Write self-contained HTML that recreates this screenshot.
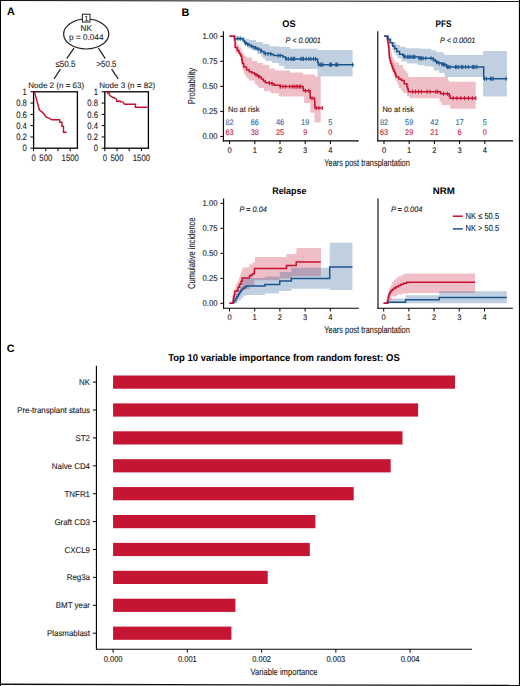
<!DOCTYPE html>
<html><head><meta charset="utf-8"><title>Figure</title>
<style>
html,body{margin:0;padding:0;background:#fff;}
body{width:520px;height:686px;overflow:hidden;}
svg{display:block;}
text{font-family:"Liberation Sans", sans-serif;text-rendering:geometricPrecision;}
</style></head>
<body>
<svg width="520" height="686" viewBox="0 0 520 686" font-family='"Liberation Sans", sans-serif'>
<rect x="0" y="0" width="520" height="686" fill="#fff"/>
<text x="7.0" y="14.7" font-size="10.8" font-weight="bold" fill="#000">A</text>
<text x="181.6" y="15.5" font-size="10.8" font-weight="bold" fill="#000">B</text>
<text x="6.8" y="352.2" font-size="10.8" font-weight="bold" fill="#000">C</text>
<ellipse cx="86.2" cy="34" rx="22.6" ry="15.0" fill="#fff" stroke="#1e1e1e" stroke-width="1.2"/>
<rect x="82.4" y="14.2" width="7.6" height="7.8" fill="#fff" stroke="#1e1e1e" stroke-width="1"/>
<text x="86.3" y="20.9" font-size="7.6" text-anchor="middle" fill="#1e1e1e" stroke="#1e1e1e" stroke-width="0.1">1</text>
<text x="86.3" y="30.8" font-size="8.2" text-anchor="middle" fill="#1e1e1e" stroke="#1e1e1e" stroke-width="0.1">NK</text>
<text x="86.3" y="40.2" font-size="8.4" text-anchor="middle" fill="#1e1e1e" stroke="#1e1e1e" stroke-width="0.1" textLength="34.4" lengthAdjust="spacingAndGlyphs">p = 0.044</text>
<line x1="74" y1="48.1" x2="66.7" y2="58.6" stroke="#1e1e1e" stroke-width="1.2"/>
<line x1="98.4" y1="48.1" x2="105.3" y2="58.6" stroke="#1e1e1e" stroke-width="1.2"/>
<text x="65.4" y="67.2" font-size="9.0" text-anchor="middle" fill="#1e1e1e" stroke="#1e1e1e" stroke-width="0.1" textLength="20.0" lengthAdjust="spacingAndGlyphs">≤50.5</text>
<text x="106.5" y="67.2" font-size="9.0" text-anchor="middle" fill="#1e1e1e" stroke="#1e1e1e" stroke-width="0.1" textLength="20.0" lengthAdjust="spacingAndGlyphs">&gt;50.5</text>
<line x1="60.4" y1="69.1" x2="54.1" y2="78.8" stroke="#1e1e1e" stroke-width="1.2"/>
<line x1="111.6" y1="69.1" x2="118.2" y2="78.8" stroke="#1e1e1e" stroke-width="1.2"/>
<text x="56.2" y="87.6" font-size="8.0" text-anchor="middle" fill="#1e1e1e" stroke="#1e1e1e" stroke-width="0.1" textLength="56.0" lengthAdjust="spacingAndGlyphs">Node 2 (n = 63)</text>
<text x="127.3" y="87.6" font-size="8.0" text-anchor="middle" fill="#1e1e1e" stroke="#1e1e1e" stroke-width="0.1" textLength="56.0" lengthAdjust="spacingAndGlyphs">Node 3 (n = 82)</text>
<rect x="33.6" y="91.8" width="43.800000000000004" height="56.39999999999999" fill="none" stroke="#000" stroke-width="1.3"/>
<line x1="30.400000000000002" y1="148.2" x2="33.6" y2="148.2" stroke="#000" stroke-width="1"/>
<text x="26.9" y="151.39999999999998" font-size="9.2" text-anchor="end" fill="#151515" stroke="#151515" stroke-width="0.1" textLength="4.3" lengthAdjust="spacingAndGlyphs">0</text>
<line x1="30.400000000000002" y1="136.92" x2="33.6" y2="136.92" stroke="#000" stroke-width="1"/>
<text x="26.9" y="140.11999999999998" font-size="9.2" text-anchor="end" fill="#151515" stroke="#151515" stroke-width="0.1" textLength="10.74" lengthAdjust="spacingAndGlyphs">0.2</text>
<line x1="30.400000000000002" y1="125.63999999999999" x2="33.6" y2="125.63999999999999" stroke="#000" stroke-width="1"/>
<text x="26.9" y="128.83999999999997" font-size="9.2" text-anchor="end" fill="#151515" stroke="#151515" stroke-width="0.1" textLength="10.74" lengthAdjust="spacingAndGlyphs">0.4</text>
<line x1="30.400000000000002" y1="114.35999999999999" x2="33.6" y2="114.35999999999999" stroke="#000" stroke-width="1"/>
<text x="26.9" y="117.55999999999999" font-size="9.2" text-anchor="end" fill="#151515" stroke="#151515" stroke-width="0.1" textLength="10.74" lengthAdjust="spacingAndGlyphs">0.6</text>
<line x1="30.400000000000002" y1="103.08" x2="33.6" y2="103.08" stroke="#000" stroke-width="1"/>
<text x="26.9" y="106.28" font-size="9.2" text-anchor="end" fill="#151515" stroke="#151515" stroke-width="0.1" textLength="10.74" lengthAdjust="spacingAndGlyphs">0.8</text>
<line x1="30.400000000000002" y1="91.8" x2="33.6" y2="91.8" stroke="#000" stroke-width="1"/>
<text x="26.9" y="95.0" font-size="9.2" text-anchor="end" fill="#151515" stroke="#151515" stroke-width="0.1" textLength="4.3" lengthAdjust="spacingAndGlyphs">1</text>
<line x1="33.6" y1="148.2" x2="33.6" y2="151.2" stroke="#000" stroke-width="1"/>
<line x1="45.8" y1="148.2" x2="45.8" y2="151.2" stroke="#000" stroke-width="1"/>
<line x1="58.0" y1="148.2" x2="58.0" y2="151.2" stroke="#000" stroke-width="1"/>
<line x1="70.19999999999999" y1="148.2" x2="70.19999999999999" y2="151.2" stroke="#000" stroke-width="1"/>
<text x="33.6" y="160.6" font-size="9.2" text-anchor="middle" fill="#151515" stroke="#151515" stroke-width="0.1" textLength="4.3" lengthAdjust="spacingAndGlyphs">0</text>
<text x="45.8" y="160.6" font-size="9.2" text-anchor="middle" fill="#151515" stroke="#151515" stroke-width="0.1" textLength="12.89" lengthAdjust="spacingAndGlyphs">500</text>
<text x="70.19999999999999" y="160.6" font-size="9.2" text-anchor="middle" fill="#151515" stroke="#151515" stroke-width="0.1" textLength="17.19" lengthAdjust="spacingAndGlyphs">1500</text>
<polyline points="34.4,91.6 39.4,110 41.9,111.9 43.75,113.75 46.25,117.25 48.75,118.1 51.9,119.75 59.75,119.75 59.75,122.25 61.9,122.25 61.9,126.25 63.5,126.25 63.5,132.25 66.5,132.25" fill="none" stroke="#c8102e" stroke-width="1.4" stroke-linejoin="miter"/>
<rect x="104.8" y="91.8" width="43.60000000000001" height="56.39999999999999" fill="none" stroke="#000" stroke-width="1.3"/>
<line x1="101.6" y1="148.2" x2="104.8" y2="148.2" stroke="#000" stroke-width="1"/>
<text x="98.1" y="151.39999999999998" font-size="9.2" text-anchor="end" fill="#151515" stroke="#151515" stroke-width="0.1" textLength="4.3" lengthAdjust="spacingAndGlyphs">0</text>
<line x1="101.6" y1="136.92" x2="104.8" y2="136.92" stroke="#000" stroke-width="1"/>
<text x="98.1" y="140.11999999999998" font-size="9.2" text-anchor="end" fill="#151515" stroke="#151515" stroke-width="0.1" textLength="10.74" lengthAdjust="spacingAndGlyphs">0.2</text>
<line x1="101.6" y1="125.63999999999999" x2="104.8" y2="125.63999999999999" stroke="#000" stroke-width="1"/>
<text x="98.1" y="128.83999999999997" font-size="9.2" text-anchor="end" fill="#151515" stroke="#151515" stroke-width="0.1" textLength="10.74" lengthAdjust="spacingAndGlyphs">0.4</text>
<line x1="101.6" y1="114.35999999999999" x2="104.8" y2="114.35999999999999" stroke="#000" stroke-width="1"/>
<text x="98.1" y="117.55999999999999" font-size="9.2" text-anchor="end" fill="#151515" stroke="#151515" stroke-width="0.1" textLength="10.74" lengthAdjust="spacingAndGlyphs">0.6</text>
<line x1="101.6" y1="103.08" x2="104.8" y2="103.08" stroke="#000" stroke-width="1"/>
<text x="98.1" y="106.28" font-size="9.2" text-anchor="end" fill="#151515" stroke="#151515" stroke-width="0.1" textLength="10.74" lengthAdjust="spacingAndGlyphs">0.8</text>
<line x1="101.6" y1="91.8" x2="104.8" y2="91.8" stroke="#000" stroke-width="1"/>
<text x="98.1" y="95.0" font-size="9.2" text-anchor="end" fill="#151515" stroke="#151515" stroke-width="0.1" textLength="4.3" lengthAdjust="spacingAndGlyphs">1</text>
<line x1="104.8" y1="148.2" x2="104.8" y2="151.2" stroke="#000" stroke-width="1"/>
<line x1="117.0" y1="148.2" x2="117.0" y2="151.2" stroke="#000" stroke-width="1"/>
<line x1="129.2" y1="148.2" x2="129.2" y2="151.2" stroke="#000" stroke-width="1"/>
<line x1="141.39999999999998" y1="148.2" x2="141.39999999999998" y2="151.2" stroke="#000" stroke-width="1"/>
<text x="104.8" y="160.6" font-size="9.2" text-anchor="middle" fill="#151515" stroke="#151515" stroke-width="0.1" textLength="4.3" lengthAdjust="spacingAndGlyphs">0</text>
<text x="117.0" y="160.6" font-size="9.2" text-anchor="middle" fill="#151515" stroke="#151515" stroke-width="0.1" textLength="12.89" lengthAdjust="spacingAndGlyphs">500</text>
<text x="141.39999999999998" y="160.6" font-size="9.2" text-anchor="middle" fill="#151515" stroke="#151515" stroke-width="0.1" textLength="17.19" lengthAdjust="spacingAndGlyphs">1500</text>
<polyline points="105.4,91.6 107.7,91.6 107.7,93 109.2,93 109.2,94.7 110.8,96.2 113.1,97.5 115.4,98.4 116.6,99.3 116.6,101.2 120.3,101.2 120.3,101.9 122.8,101.9 124.6,104.2 135.4,104.2 135.4,107.3 147.7,107.3" fill="none" stroke="#c8102e" stroke-width="1.4" stroke-linejoin="miter"/>
<line x1="223.4" y1="31.3" x2="223.4" y2="141.4" stroke="#000" stroke-width="1.1"/>
<line x1="222.9" y1="140.9" x2="358.8" y2="140.9" stroke="#000" stroke-width="1.1"/>
<line x1="229.6" y1="140.9" x2="229.6" y2="144.1" stroke="#000" stroke-width="1"/>
<text x="229.6" y="152.5" font-size="8.2" text-anchor="middle" fill="#151515" stroke="#151515" stroke-width="0.1" textLength="4.2" lengthAdjust="spacingAndGlyphs">0</text>
<line x1="254.79999999999998" y1="140.9" x2="254.79999999999998" y2="144.1" stroke="#000" stroke-width="1"/>
<text x="254.79999999999998" y="152.5" font-size="8.2" text-anchor="middle" fill="#151515" stroke="#151515" stroke-width="0.1" textLength="4.2" lengthAdjust="spacingAndGlyphs">1</text>
<line x1="280.0" y1="140.9" x2="280.0" y2="144.1" stroke="#000" stroke-width="1"/>
<text x="280.0" y="152.5" font-size="8.2" text-anchor="middle" fill="#151515" stroke="#151515" stroke-width="0.1" textLength="4.2" lengthAdjust="spacingAndGlyphs">2</text>
<line x1="305.2" y1="140.9" x2="305.2" y2="144.1" stroke="#000" stroke-width="1"/>
<text x="305.2" y="152.5" font-size="8.2" text-anchor="middle" fill="#151515" stroke="#151515" stroke-width="0.1" textLength="4.2" lengthAdjust="spacingAndGlyphs">3</text>
<line x1="330.4" y1="140.9" x2="330.4" y2="144.1" stroke="#000" stroke-width="1"/>
<text x="330.4" y="152.5" font-size="8.2" text-anchor="middle" fill="#151515" stroke="#151515" stroke-width="0.1" textLength="4.2" lengthAdjust="spacingAndGlyphs">4</text>
<line x1="220.20000000000002" y1="136.4" x2="223.4" y2="136.4" stroke="#000" stroke-width="1"/>
<text x="217.5" y="139.4" font-size="8.4" text-anchor="end" fill="#151515" stroke="#151515" stroke-width="0.1" textLength="15.04" lengthAdjust="spacingAndGlyphs">0.00</text>
<line x1="220.20000000000002" y1="111.375" x2="223.4" y2="111.375" stroke="#000" stroke-width="1"/>
<text x="217.5" y="114.375" font-size="8.4" text-anchor="end" fill="#151515" stroke="#151515" stroke-width="0.1" textLength="15.04" lengthAdjust="spacingAndGlyphs">0.25</text>
<line x1="220.20000000000002" y1="86.35" x2="223.4" y2="86.35" stroke="#000" stroke-width="1"/>
<text x="217.5" y="89.35" font-size="8.4" text-anchor="end" fill="#151515" stroke="#151515" stroke-width="0.1" textLength="15.04" lengthAdjust="spacingAndGlyphs">0.50</text>
<line x1="220.20000000000002" y1="61.325" x2="223.4" y2="61.325" stroke="#000" stroke-width="1"/>
<text x="217.5" y="64.325" font-size="8.4" text-anchor="end" fill="#151515" stroke="#151515" stroke-width="0.1" textLength="15.04" lengthAdjust="spacingAndGlyphs">0.75</text>
<line x1="220.20000000000002" y1="36.3" x2="223.4" y2="36.3" stroke="#000" stroke-width="1"/>
<text x="217.5" y="39.3" font-size="8.4" text-anchor="end" fill="#151515" stroke="#151515" stroke-width="0.1" textLength="15.04" lengthAdjust="spacingAndGlyphs">1.00</text>
<polygon points="234.4,36.3 234.7,36.3 234.7,38.85 235.0,38.85 235.0,41.4 237.1,41.4 237.1,44.8 239.0,44.8 239.0,47.0 241.2,47.0 241.2,50.2 242.5,50.2 242.5,52.9 243.8,52.9 243.8,55.6 246.5,55.6 246.5,57.6 251.9,57.6 251.9,61.0 257.3,61.0 257.3,63.0 262.7,63.0 262.7,65.0 269.4,65.0 269.4,68.4 274.8,68.4 274.8,70.4 290.0,70.4 290.0,72.6 302.8,72.6 302.8,74.6 314.9,74.6 314.9,76.6 320.7,76.6 320.7,122.5 314.5,122.5 314.5,112.8 310.2,112.8 310.2,103 304.1,103 304.1,96.4 280,96.4 280.0,95.9 278.8,95.9 278.8,93.3 270.8,93.3 270.8,91.2 264.0,91.2 264.0,87.9 258.6,87.9 258.6,85.85 256.6,85.85 256.6,83.8 254.6,83.8 254.6,80.5 249.2,80.5 249.2,78.45 247.2,78.45 247.2,76.4 245.2,76.4 245.2,73.4 243.85,73.4 243.85,70.4 242.5,70.4 242.5,67.03 241.82,67.03 241.82,63.65 241.15,63.65 241.15,60.27 240.48,60.27 240.48,56.9 239.8,56.9 239.8,52.9 235.8,52.9 235.8,48.93 235.33,48.93 235.33,44.97 234.87,44.97 234.87,41.0 234.4,41.0" fill="#c8102e" fill-opacity="0.27" stroke="none"/>
<polygon points="234.6,36.3 242.5,36.3 242.5,36.8 245.2,36.8 245.2,38.7 249.2,38.7 249.2,40.1 256.0,40.1 256.0,42.1 262.7,42.1 262.7,44.1 269.4,44.1 269.4,46.2 278.8,46.2 278.8,46.8 290.0,46.8 290.0,48.8 317.6,48.8 317.6,49.9 352.6,49.9 352.6,76.4 317.6,76.4 317.6,68.6 317.6,69.0 284.2,69.0 284.2,65.7 278.8,65.7 278.8,63.0 272.1,63.0 272.1,61.0 265.4,61.0 265.4,58.95 263.35,58.95 263.35,56.9 261.3,56.9 261.3,54.2 257.3,54.2 257.3,50.2 251.9,50.2 251.9,48.2 247.9,48.2 247.9,44.8 243.8,44.8 243.8,42.1 242.5,42.1 242.5,40.1 235.8,40.1 235.8,38.7 234.6,38.7" fill="#1b538f" fill-opacity="0.27" stroke="none"/>
<polyline points="229.6,36.3 234.6,36.3 234.6,38.7 242.5,38.7 243.2,38.7 243.2,40.8 244.5,40.8 244.5,42.8 246.5,42.8 246.5,44.1 249.2,44.1 249.2,45.5 251.9,45.5 251.9,46.8 255.3,46.8 255.3,48.2 258.6,48.2 258.6,49.5 261.3,49.5 261.3,51.5 264.0,51.5 264.0,53.6 270.8,53.6 270.8,54.2 273.5,54.2 273.5,55.6 280.2,55.6 282.9,55.6 282.9,56.9 285.6,56.9 285.6,58.9 316.2,58.9 317.6,58.9 317.6,62.3 318.3,62.3 318.3,64.7 353.9,64.7" fill="none" stroke="#1b538f" stroke-width="1.5" stroke-linejoin="miter"/>
<line x1="237.9" y1="36.6" x2="237.9" y2="40.8" stroke="#1b538f" stroke-width="1.0"/>
<line x1="240.3" y1="36.6" x2="240.3" y2="40.8" stroke="#1b538f" stroke-width="1.0"/>
<line x1="245.5" y1="41.35" x2="245.5" y2="45.55" stroke="#1b538f" stroke-width="1.0"/>
<line x1="247.6" y1="42.57" x2="247.6" y2="46.77" stroke="#1b538f" stroke-width="1.0"/>
<line x1="251.2" y1="44.36" x2="251.2" y2="48.56" stroke="#1b538f" stroke-width="1.0"/>
<line x1="253.9" y1="45.52" x2="253.9" y2="49.72" stroke="#1b538f" stroke-width="1.0"/>
<line x1="256" y1="46.38" x2="256" y2="50.58" stroke="#1b538f" stroke-width="1.0"/>
<line x1="258" y1="47.16" x2="258" y2="51.36" stroke="#1b538f" stroke-width="1.0"/>
<line x1="260.7" y1="48.96" x2="260.7" y2="53.16" stroke="#1b538f" stroke-width="1.0"/>
<line x1="265.4" y1="51.62" x2="265.4" y2="55.82" stroke="#1b538f" stroke-width="1.0"/>
<line x1="268.1" y1="51.86" x2="268.1" y2="56.06" stroke="#1b538f" stroke-width="1.0"/>
<line x1="270.8" y1="52.1" x2="270.8" y2="56.3" stroke="#1b538f" stroke-width="1.0"/>
<line x1="278.2" y1="53.5" x2="278.2" y2="57.7" stroke="#1b538f" stroke-width="1.0"/>
<line x1="280.2" y1="53.5" x2="280.2" y2="57.7" stroke="#1b538f" stroke-width="1.0"/>
<line x1="286.2" y1="56.8" x2="286.2" y2="61.0" stroke="#1b538f" stroke-width="1.0"/>
<line x1="288.3" y1="56.8" x2="288.3" y2="61.0" stroke="#1b538f" stroke-width="1.0"/>
<line x1="290.9" y1="56.8" x2="290.9" y2="61.0" stroke="#1b538f" stroke-width="1.0"/>
<line x1="292" y1="56.8" x2="292" y2="61.0" stroke="#1b538f" stroke-width="1.0"/>
<line x1="293.4" y1="56.8" x2="293.4" y2="61.0" stroke="#1b538f" stroke-width="1.0"/>
<line x1="294.7" y1="56.8" x2="294.7" y2="61.0" stroke="#1b538f" stroke-width="1.0"/>
<line x1="300.8" y1="56.8" x2="300.8" y2="61.0" stroke="#1b538f" stroke-width="1.0"/>
<line x1="302.1" y1="56.8" x2="302.1" y2="61.0" stroke="#1b538f" stroke-width="1.0"/>
<line x1="303.5" y1="56.8" x2="303.5" y2="61.0" stroke="#1b538f" stroke-width="1.0"/>
<line x1="306.2" y1="56.8" x2="306.2" y2="61.0" stroke="#1b538f" stroke-width="1.0"/>
<line x1="308.8" y1="56.8" x2="308.8" y2="61.0" stroke="#1b538f" stroke-width="1.0"/>
<line x1="310.9" y1="56.8" x2="310.9" y2="61.0" stroke="#1b538f" stroke-width="1.0"/>
<line x1="313.6" y1="56.8" x2="313.6" y2="61.0" stroke="#1b538f" stroke-width="1.0"/>
<line x1="315.6" y1="56.8" x2="315.6" y2="61.0" stroke="#1b538f" stroke-width="1.0"/>
<line x1="318.9" y1="62.6" x2="318.9" y2="66.8" stroke="#1b538f" stroke-width="1.0"/>
<line x1="320.3" y1="62.6" x2="320.3" y2="66.8" stroke="#1b538f" stroke-width="1.0"/>
<line x1="321.6" y1="62.6" x2="321.6" y2="66.8" stroke="#1b538f" stroke-width="1.0"/>
<line x1="323" y1="62.6" x2="323" y2="66.8" stroke="#1b538f" stroke-width="1.0"/>
<line x1="329.7" y1="62.6" x2="329.7" y2="66.8" stroke="#1b538f" stroke-width="1.0"/>
<line x1="330.4" y1="62.6" x2="330.4" y2="66.8" stroke="#1b538f" stroke-width="1.0"/>
<line x1="331.7" y1="62.6" x2="331.7" y2="66.8" stroke="#1b538f" stroke-width="1.0"/>
<line x1="335.8" y1="62.6" x2="335.8" y2="66.8" stroke="#1b538f" stroke-width="1.0"/>
<line x1="336.4" y1="62.6" x2="336.4" y2="66.8" stroke="#1b538f" stroke-width="1.0"/>
<line x1="337.8" y1="62.6" x2="337.8" y2="66.8" stroke="#1b538f" stroke-width="1.0"/>
<line x1="352.6" y1="62.6" x2="352.6" y2="66.8" stroke="#1b538f" stroke-width="1.0"/>
<polyline points="229.6,36.3 234.4,36.3 234.4,40.1 235.1,40.1 235.1,42.0 235.1,47.5 236.4,47.5 237.1,47.5 237.1,50.2 238.4,50.2 238.4,50.9 239.1,50.9 239.1,53.6 240.4,53.6 240.4,55.0 241.1,55.0 241.1,56.2 241.8,56.2 241.8,59.6 242.15,59.6 242.15,61.6 242.5,61.6 242.5,63.6 243.8,63.6 243.8,67.0 246.5,67.0 246.5,69.7 249.2,69.7 249.2,71.7 251.9,71.7 251.9,73.1 254.6,73.1 254.6,74.4 257.3,74.4 257.3,75.8 259.3,75.8 259.3,77.1 261.3,77.1 261.3,79.1 263.4,79.1 263.4,81.1 265.4,81.1 265.4,82.8 269.4,82.8 269.4,83.2 272.1,83.2 272.1,83.8 274.1,83.8 274.1,85.2 278.8,85.2 280.2,85.2 280.2,86.6 302.8,86.6 303.15,86.6 303.15,88.7 303.5,88.7 303.5,90.8 309.9,90.8 310.0,90.8 310.0,93.3 310.1,93.3 310.1,95.8 310.2,95.8 310.2,98.3 314.5,98.3 314.63,98.3 314.63,101.53 314.77,101.53 314.77,104.77 314.9,104.77 314.9,108.0 322.3,108" fill="none" stroke="#c8102e" stroke-width="1.5" stroke-linejoin="miter"/>
<line x1="256" y1="73.03" x2="256" y2="77.23" stroke="#c8102e" stroke-width="1.0"/>
<line x1="258.6" y1="74.55" x2="258.6" y2="78.74" stroke="#c8102e" stroke-width="1.0"/>
<line x1="269.4" y1="81.1" x2="269.4" y2="85.3" stroke="#c8102e" stroke-width="1.0"/>
<line x1="272.1" y1="81.7" x2="272.1" y2="85.9" stroke="#c8102e" stroke-width="1.0"/>
<line x1="280.2" y1="84.5" x2="280.2" y2="88.7" stroke="#c8102e" stroke-width="1.0"/>
<line x1="282.9" y1="84.5" x2="282.9" y2="88.7" stroke="#c8102e" stroke-width="1.0"/>
<line x1="285.6" y1="84.5" x2="285.6" y2="88.7" stroke="#c8102e" stroke-width="1.0"/>
<line x1="289.6" y1="84.5" x2="289.6" y2="88.7" stroke="#c8102e" stroke-width="1.0"/>
<line x1="292.3" y1="84.5" x2="292.3" y2="88.7" stroke="#c8102e" stroke-width="1.0"/>
<line x1="294" y1="84.5" x2="294" y2="88.7" stroke="#c8102e" stroke-width="1.0"/>
<line x1="296" y1="84.5" x2="296" y2="88.7" stroke="#c8102e" stroke-width="1.0"/>
<line x1="297.4" y1="84.5" x2="297.4" y2="88.7" stroke="#c8102e" stroke-width="1.0"/>
<line x1="299.4" y1="84.5" x2="299.4" y2="88.7" stroke="#c8102e" stroke-width="1.0"/>
<line x1="300.8" y1="84.5" x2="300.8" y2="88.7" stroke="#c8102e" stroke-width="1.0"/>
<line x1="305.5" y1="88.7" x2="305.5" y2="92.9" stroke="#c8102e" stroke-width="1.0"/>
<line x1="308.8" y1="88.7" x2="308.8" y2="92.9" stroke="#c8102e" stroke-width="1.0"/>
<line x1="312" y1="96.2" x2="312" y2="100.4" stroke="#c8102e" stroke-width="1.0"/>
<line x1="316.2" y1="105.9" x2="316.2" y2="110.1" stroke="#c8102e" stroke-width="1.0"/>
<line x1="318.9" y1="105.9" x2="318.9" y2="110.1" stroke="#c8102e" stroke-width="1.0"/>
<line x1="322.3" y1="105.9" x2="322.3" y2="110.1" stroke="#c8102e" stroke-width="1.0"/>
<text x="289.0" y="27.0" font-size="9.5" text-anchor="middle" font-weight="bold" fill="#000" textLength="13.3" lengthAdjust="spacingAndGlyphs">OS</text>
<text x="285.6" y="42.9" font-size="8.0" font-style="italic" fill="#111" stroke="#111" stroke-width="0.1" textLength="35.3" lengthAdjust="spacingAndGlyphs">P &lt; 0.0001</text>
<line x1="377.8" y1="31.3" x2="377.8" y2="141.4" stroke="#000" stroke-width="1.1"/>
<line x1="377.3" y1="140.9" x2="513.0" y2="140.9" stroke="#000" stroke-width="1.1"/>
<line x1="384.0" y1="140.9" x2="384.0" y2="144.1" stroke="#000" stroke-width="1"/>
<text x="384.0" y="152.5" font-size="8.2" text-anchor="middle" fill="#151515" stroke="#151515" stroke-width="0.1" textLength="4.2" lengthAdjust="spacingAndGlyphs">0</text>
<line x1="409.2" y1="140.9" x2="409.2" y2="144.1" stroke="#000" stroke-width="1"/>
<text x="409.2" y="152.5" font-size="8.2" text-anchor="middle" fill="#151515" stroke="#151515" stroke-width="0.1" textLength="4.2" lengthAdjust="spacingAndGlyphs">1</text>
<line x1="434.4" y1="140.9" x2="434.4" y2="144.1" stroke="#000" stroke-width="1"/>
<text x="434.4" y="152.5" font-size="8.2" text-anchor="middle" fill="#151515" stroke="#151515" stroke-width="0.1" textLength="4.2" lengthAdjust="spacingAndGlyphs">2</text>
<line x1="459.6" y1="140.9" x2="459.6" y2="144.1" stroke="#000" stroke-width="1"/>
<text x="459.6" y="152.5" font-size="8.2" text-anchor="middle" fill="#151515" stroke="#151515" stroke-width="0.1" textLength="4.2" lengthAdjust="spacingAndGlyphs">3</text>
<line x1="484.8" y1="140.9" x2="484.8" y2="144.1" stroke="#000" stroke-width="1"/>
<text x="484.8" y="152.5" font-size="8.2" text-anchor="middle" fill="#151515" stroke="#151515" stroke-width="0.1" textLength="4.2" lengthAdjust="spacingAndGlyphs">4</text>
<polygon points="386.7,36.3 387.4,36.3 387.4,39.4 388.3,39.4 388.3,42.1 389.2,42.1 389.2,44.8 390.1,44.8 390.1,47.5 390.77,47.5 390.77,50.63 391.43,50.63 391.43,53.77 392.1,53.77 392.1,56.9 393.45,56.9 393.45,59.6 394.8,59.6 394.8,62.3 398.8,62.3 398.8,65.0 402.9,65.0 402.9,69.0 404.9,69.0 404.9,71.05 406.9,71.05 406.9,73.1 408.3,73.1 408.3,77.1 448.1,77.1 448.1,79.8 448.7,79.8 448.7,81.8 475.7,81.8 475.7,108.8 450.2,108.8 450.2,105.0 441.5,105.0 441.5,101.65 439.6,101.65 439.6,98.3 437.7,98.3 409.8,98.3 409.8,96.5 407.0,96.5 407.0,93.0 402.9,93.0 402.9,90.5 400.85,90.5 400.85,88.0 398.8,88.0 398.8,84.5 397.15,84.5 397.15,81.0 395.5,81.0 395.5,78.4 394.5,78.4 394.5,75.8 393.5,75.8 393.5,72.4 392.15,72.4 392.15,69.0 390.8,69.0 390.8,65.2 390.24,65.2 390.24,61.4 389.68,61.4 389.68,57.6 389.12,57.6 389.12,53.8 388.56,53.8 388.56,50.0 388.0,50.0 388.0,46.75 387.68,46.75 387.68,43.5 387.35,43.5 387.35,40.25 387.02,40.25 387.02,37.0 386.7,37.0" fill="#c8102e" fill-opacity="0.27" stroke="none"/>
<polygon points="386.7,36.3 389.4,36.3 389.4,38.1 392.1,38.1 392.1,42.1 396.2,42.1 396.2,44.8 400.2,44.8 400.2,46.8 405.6,46.8 405.6,48.2 420.4,48.2 420.4,48.8 431.1,48.8 431.1,50.2 436.5,50.2 436.5,52.2 443.3,52.2 443.3,53.6 444.7,53.6 444.7,54.9 483.1,54.9 483.1,50.9 506.9,50.9 506.9,96.6 483.1,96.6 483.1,77.1 445.4,77.1 445.4,76.4 444.6,76.4 444.6,73.1 439.2,73.1 439.2,70.4 433.8,70.4 433.8,67.0 431.1,67.0 431.1,66.3 424.4,66.3 424.4,65.0 417.7,65.0 417.7,63.6 406.9,63.6 406.9,61.6 401.5,61.6 401.5,58.3 397.5,58.3 397.5,55.6 395.5,55.6 395.5,52.9 393.5,52.9 393.5,49.55 392.15,49.55 392.15,46.2 390.8,46.2 390.8,43.5 389.67,43.5 389.67,40.8 388.53,40.8 388.53,38.1 387.4,38.1" fill="#1b538f" fill-opacity="0.27" stroke="none"/>
<polyline points="384,36.3 386.7,36.3 387.17,36.3 387.17,38.7 387.63,38.7 387.63,41.1 388.1,41.1 388.1,43.5 388.4,43.5 388.4,45.5 388.7,45.5 388.7,47.5 388.88,47.5 388.88,50.2 389.05,50.2 389.05,52.9 389.22,52.9 389.22,55.6 389.4,55.6 389.4,58.3 390.1,58.3 390.1,60.95 390.8,60.95 390.8,63.6 391.8,63.6 391.8,66.3 392.8,66.3 392.8,69.0 393.8,69.0 393.8,71.05 394.8,71.05 394.8,73.1 395.5,73.1 395.5,75.1 396.2,75.1 396.2,77.1 398.8,77.1 398.8,79.1 401.5,79.1 401.5,80.5 404.2,80.5 404.2,83.8 406.9,83.8 406.9,86.5 407.6,86.5 407.6,89.1 408.3,89.1 408.3,91.7 437.7,91.7 440.6,91.7 440.6,93.8 448.3,93.8 449.25,93.8 449.25,96.0 450.2,96.0 450.2,98.2 476.2,98.2" fill="none" stroke="#c8102e" stroke-width="1.5" stroke-linejoin="miter"/>
<line x1="412.7" y1="89.6" x2="412.7" y2="93.8" stroke="#c8102e" stroke-width="1.0"/>
<line x1="415.6" y1="89.6" x2="415.6" y2="93.8" stroke="#c8102e" stroke-width="1.0"/>
<line x1="418.5" y1="89.6" x2="418.5" y2="93.8" stroke="#c8102e" stroke-width="1.0"/>
<line x1="421.3" y1="89.6" x2="421.3" y2="93.8" stroke="#c8102e" stroke-width="1.0"/>
<line x1="427.1" y1="89.6" x2="427.1" y2="93.8" stroke="#c8102e" stroke-width="1.0"/>
<line x1="430" y1="89.6" x2="430" y2="93.8" stroke="#c8102e" stroke-width="1.0"/>
<line x1="435.8" y1="89.6" x2="435.8" y2="93.8" stroke="#c8102e" stroke-width="1.0"/>
<line x1="437.7" y1="89.6" x2="437.7" y2="93.8" stroke="#c8102e" stroke-width="1.0"/>
<line x1="443.5" y1="91.7" x2="443.5" y2="95.9" stroke="#c8102e" stroke-width="1.0"/>
<line x1="447.3" y1="91.7" x2="447.3" y2="95.9" stroke="#c8102e" stroke-width="1.0"/>
<line x1="453.1" y1="96.1" x2="453.1" y2="100.3" stroke="#c8102e" stroke-width="1.0"/>
<line x1="456.9" y1="96.1" x2="456.9" y2="100.3" stroke="#c8102e" stroke-width="1.0"/>
<line x1="460.8" y1="96.1" x2="460.8" y2="100.3" stroke="#c8102e" stroke-width="1.0"/>
<line x1="464.6" y1="96.1" x2="464.6" y2="100.3" stroke="#c8102e" stroke-width="1.0"/>
<line x1="468.5" y1="96.1" x2="468.5" y2="100.3" stroke="#c8102e" stroke-width="1.0"/>
<line x1="472.3" y1="96.1" x2="472.3" y2="100.3" stroke="#c8102e" stroke-width="1.0"/>
<line x1="475.8" y1="96.1" x2="475.8" y2="100.3" stroke="#c8102e" stroke-width="1.0"/>
<polyline points="384,36.3 386.7,36.3 388.1,36.3 388.1,39.4 390.1,39.4 390.1,42.8 392.8,42.8 392.8,46.2 394.8,46.2 394.8,48.8 396.8,48.8 396.8,51.5 399.5,51.5 399.5,54.2 402.9,54.2 402.9,55.6 404.9,55.6 404.9,56.9 417.7,56.9 419.0,56.9 419.0,58.3 431.1,58.3 433.2,58.3 433.2,59.6 435.2,59.6 435.2,61.6 437.9,61.6 437.9,63.0 441.9,63.0 441.9,64.3 445.4,64.3 445.4,64.7 446.5,64.7 446.5,67.0 483.7,67 483.7,78.7 507.3,78.7" fill="none" stroke="#1b538f" stroke-width="1.5" stroke-linejoin="miter"/>
<line x1="403.6" y1="53.96" x2="403.6" y2="58.16" stroke="#1b538f" stroke-width="1.0"/>
<line x1="404.9" y1="54.8" x2="404.9" y2="59.0" stroke="#1b538f" stroke-width="1.0"/>
<line x1="407.6" y1="54.8" x2="407.6" y2="59.0" stroke="#1b538f" stroke-width="1.0"/>
<line x1="408.9" y1="54.8" x2="408.9" y2="59.0" stroke="#1b538f" stroke-width="1.0"/>
<line x1="410.3" y1="54.8" x2="410.3" y2="59.0" stroke="#1b538f" stroke-width="1.0"/>
<line x1="412.3" y1="54.8" x2="412.3" y2="59.0" stroke="#1b538f" stroke-width="1.0"/>
<line x1="413.6" y1="54.8" x2="413.6" y2="59.0" stroke="#1b538f" stroke-width="1.0"/>
<line x1="415" y1="54.8" x2="415" y2="59.0" stroke="#1b538f" stroke-width="1.0"/>
<line x1="419" y1="56.2" x2="419" y2="60.4" stroke="#1b538f" stroke-width="1.0"/>
<line x1="420.4" y1="56.2" x2="420.4" y2="60.4" stroke="#1b538f" stroke-width="1.0"/>
<line x1="421.7" y1="56.2" x2="421.7" y2="60.4" stroke="#1b538f" stroke-width="1.0"/>
<line x1="423.1" y1="56.2" x2="423.1" y2="60.4" stroke="#1b538f" stroke-width="1.0"/>
<line x1="425.8" y1="56.2" x2="425.8" y2="60.4" stroke="#1b538f" stroke-width="1.0"/>
<line x1="431.1" y1="56.2" x2="431.1" y2="60.4" stroke="#1b538f" stroke-width="1.0"/>
<line x1="433.2" y1="57.5" x2="433.2" y2="61.7" stroke="#1b538f" stroke-width="1.0"/>
<line x1="436.5" y1="60.17" x2="436.5" y2="64.37" stroke="#1b538f" stroke-width="1.0"/>
<line x1="439.2" y1="61.32" x2="439.2" y2="65.52" stroke="#1b538f" stroke-width="1.0"/>
<line x1="442" y1="62.21" x2="442" y2="66.41" stroke="#1b538f" stroke-width="1.0"/>
<line x1="443.4" y1="62.37" x2="443.4" y2="66.57" stroke="#1b538f" stroke-width="1.0"/>
<line x1="444.7" y1="62.52" x2="444.7" y2="66.72" stroke="#1b538f" stroke-width="1.0"/>
<line x1="447.4" y1="64.9" x2="447.4" y2="69.1" stroke="#1b538f" stroke-width="1.0"/>
<line x1="448.7" y1="64.9" x2="448.7" y2="69.1" stroke="#1b538f" stroke-width="1.0"/>
<line x1="450.1" y1="64.9" x2="450.1" y2="69.1" stroke="#1b538f" stroke-width="1.0"/>
<line x1="455.5" y1="64.9" x2="455.5" y2="69.1" stroke="#1b538f" stroke-width="1.0"/>
<line x1="456.8" y1="64.9" x2="456.8" y2="69.1" stroke="#1b538f" stroke-width="1.0"/>
<line x1="458.8" y1="64.9" x2="458.8" y2="69.1" stroke="#1b538f" stroke-width="1.0"/>
<line x1="461.5" y1="64.9" x2="461.5" y2="69.1" stroke="#1b538f" stroke-width="1.0"/>
<line x1="462.9" y1="64.9" x2="462.9" y2="69.1" stroke="#1b538f" stroke-width="1.0"/>
<line x1="465.6" y1="64.9" x2="465.6" y2="69.1" stroke="#1b538f" stroke-width="1.0"/>
<line x1="468.3" y1="64.9" x2="468.3" y2="69.1" stroke="#1b538f" stroke-width="1.0"/>
<line x1="472.3" y1="64.9" x2="472.3" y2="69.1" stroke="#1b538f" stroke-width="1.0"/>
<line x1="473.6" y1="64.9" x2="473.6" y2="69.1" stroke="#1b538f" stroke-width="1.0"/>
<line x1="475" y1="64.9" x2="475" y2="69.1" stroke="#1b538f" stroke-width="1.0"/>
<line x1="477" y1="64.9" x2="477" y2="69.1" stroke="#1b538f" stroke-width="1.0"/>
<line x1="484.4" y1="76.6" x2="484.4" y2="80.8" stroke="#1b538f" stroke-width="1.0"/>
<line x1="486.4" y1="76.6" x2="486.4" y2="80.8" stroke="#1b538f" stroke-width="1.0"/>
<line x1="490.5" y1="76.6" x2="490.5" y2="80.8" stroke="#1b538f" stroke-width="1.0"/>
<line x1="491.8" y1="76.6" x2="491.8" y2="80.8" stroke="#1b538f" stroke-width="1.0"/>
<line x1="493.2" y1="76.6" x2="493.2" y2="80.8" stroke="#1b538f" stroke-width="1.0"/>
<line x1="506" y1="76.6" x2="506" y2="80.8" stroke="#1b538f" stroke-width="1.0"/>
<text x="443.4" y="27.0" font-size="9.5" text-anchor="middle" font-weight="bold" fill="#000" textLength="15.9" lengthAdjust="spacingAndGlyphs">PFS</text>
<text x="440.0" y="42.9" font-size="8.0" font-style="italic" fill="#111" stroke="#111" stroke-width="0.1" textLength="35.3" lengthAdjust="spacingAndGlyphs">P &lt; 0.0001</text>
<text x="228.0" y="112.4" font-size="8.0" fill="#151515" stroke="#151515" stroke-width="0.1" textLength="31.5" lengthAdjust="spacingAndGlyphs">No at risk</text>
<text x="229.6" y="124.6" font-size="8.2" text-anchor="middle" fill="#2f6aa3" stroke="#2f6aa3" stroke-width="0.1" textLength="8.21" lengthAdjust="spacingAndGlyphs">82</text>
<text x="229.6" y="134.5" font-size="8.2" text-anchor="middle" fill="#c8223f" stroke="#c8223f" stroke-width="0.1" textLength="8.21" lengthAdjust="spacingAndGlyphs">63</text>
<text x="254.79999999999998" y="124.6" font-size="8.2" text-anchor="middle" fill="#2f6aa3" stroke="#2f6aa3" stroke-width="0.1" textLength="8.21" lengthAdjust="spacingAndGlyphs">66</text>
<text x="254.79999999999998" y="134.5" font-size="8.2" text-anchor="middle" fill="#c8223f" stroke="#c8223f" stroke-width="0.1" textLength="8.21" lengthAdjust="spacingAndGlyphs">38</text>
<text x="280.0" y="124.6" font-size="8.2" text-anchor="middle" fill="#2f6aa3" stroke="#2f6aa3" stroke-width="0.1" textLength="8.21" lengthAdjust="spacingAndGlyphs">46</text>
<text x="280.0" y="134.5" font-size="8.2" text-anchor="middle" fill="#c8223f" stroke="#c8223f" stroke-width="0.1" textLength="8.21" lengthAdjust="spacingAndGlyphs">25</text>
<text x="305.2" y="124.6" font-size="8.2" text-anchor="middle" fill="#2f6aa3" stroke="#2f6aa3" stroke-width="0.1" textLength="8.21" lengthAdjust="spacingAndGlyphs">19</text>
<text x="305.2" y="134.5" font-size="8.2" text-anchor="middle" fill="#c8223f" stroke="#c8223f" stroke-width="0.1" textLength="4.1" lengthAdjust="spacingAndGlyphs">9</text>
<text x="330.4" y="124.6" font-size="8.2" text-anchor="middle" fill="#2f6aa3" stroke="#2f6aa3" stroke-width="0.1" textLength="4.1" lengthAdjust="spacingAndGlyphs">5</text>
<text x="330.4" y="134.5" font-size="8.2" text-anchor="middle" fill="#c8223f" stroke="#c8223f" stroke-width="0.1" textLength="4.1" lengthAdjust="spacingAndGlyphs">0</text>
<text x="382.4" y="112.4" font-size="8.0" fill="#151515" stroke="#151515" stroke-width="0.1" textLength="31.5" lengthAdjust="spacingAndGlyphs">No at risk</text>
<text x="384.0" y="124.6" font-size="8.2" text-anchor="middle" fill="#2f6aa3" stroke="#2f6aa3" stroke-width="0.1" textLength="8.21" lengthAdjust="spacingAndGlyphs">82</text>
<text x="384.0" y="134.5" font-size="8.2" text-anchor="middle" fill="#c8223f" stroke="#c8223f" stroke-width="0.1" textLength="8.21" lengthAdjust="spacingAndGlyphs">63</text>
<text x="409.2" y="124.6" font-size="8.2" text-anchor="middle" fill="#2f6aa3" stroke="#2f6aa3" stroke-width="0.1" textLength="8.21" lengthAdjust="spacingAndGlyphs">59</text>
<text x="409.2" y="134.5" font-size="8.2" text-anchor="middle" fill="#c8223f" stroke="#c8223f" stroke-width="0.1" textLength="8.21" lengthAdjust="spacingAndGlyphs">29</text>
<text x="434.4" y="124.6" font-size="8.2" text-anchor="middle" fill="#2f6aa3" stroke="#2f6aa3" stroke-width="0.1" textLength="8.21" lengthAdjust="spacingAndGlyphs">42</text>
<text x="434.4" y="134.5" font-size="8.2" text-anchor="middle" fill="#c8223f" stroke="#c8223f" stroke-width="0.1" textLength="8.21" lengthAdjust="spacingAndGlyphs">21</text>
<text x="459.6" y="124.6" font-size="8.2" text-anchor="middle" fill="#2f6aa3" stroke="#2f6aa3" stroke-width="0.1" textLength="8.21" lengthAdjust="spacingAndGlyphs">17</text>
<text x="459.6" y="134.5" font-size="8.2" text-anchor="middle" fill="#c8223f" stroke="#c8223f" stroke-width="0.1" textLength="4.1" lengthAdjust="spacingAndGlyphs">6</text>
<text x="484.8" y="124.6" font-size="8.2" text-anchor="middle" fill="#2f6aa3" stroke="#2f6aa3" stroke-width="0.1" textLength="4.1" lengthAdjust="spacingAndGlyphs">5</text>
<text x="484.8" y="134.5" font-size="8.2" text-anchor="middle" fill="#c8223f" stroke="#c8223f" stroke-width="0.1" textLength="4.1" lengthAdjust="spacingAndGlyphs">0</text>
<text x="195.0" y="86.0" font-size="10.0" text-anchor="middle" fill="#151515" stroke="#151515" stroke-width="0.1" textLength="36.5" lengthAdjust="spacingAndGlyphs" transform="rotate(-90 195.0 86.0)">Probability</text>
<text x="367.1" y="166.1" font-size="9.9" text-anchor="middle" fill="#151515" stroke="#151515" stroke-width="0.1" textLength="85.5" lengthAdjust="spacingAndGlyphs">Years post transplantation</text>
<text x="367.1" y="333.0" font-size="9.9" text-anchor="middle" fill="#151515" stroke="#151515" stroke-width="0.1" textLength="85.5" lengthAdjust="spacingAndGlyphs">Years post transplantation</text>
<line x1="223.6" y1="198.5" x2="223.6" y2="308.8" stroke="#000" stroke-width="1.1"/>
<line x1="223.1" y1="308.3" x2="358.8" y2="308.3" stroke="#000" stroke-width="1.1"/>
<line x1="229.5" y1="308.3" x2="229.5" y2="311.5" stroke="#000" stroke-width="1"/>
<text x="229.5" y="319.90000000000003" font-size="8.2" text-anchor="middle" fill="#151515" stroke="#151515" stroke-width="0.1" textLength="4.2" lengthAdjust="spacingAndGlyphs">0</text>
<line x1="254.7" y1="308.3" x2="254.7" y2="311.5" stroke="#000" stroke-width="1"/>
<text x="254.7" y="319.90000000000003" font-size="8.2" text-anchor="middle" fill="#151515" stroke="#151515" stroke-width="0.1" textLength="4.2" lengthAdjust="spacingAndGlyphs">1</text>
<line x1="279.9" y1="308.3" x2="279.9" y2="311.5" stroke="#000" stroke-width="1"/>
<text x="279.9" y="319.90000000000003" font-size="8.2" text-anchor="middle" fill="#151515" stroke="#151515" stroke-width="0.1" textLength="4.2" lengthAdjust="spacingAndGlyphs">2</text>
<line x1="305.1" y1="308.3" x2="305.1" y2="311.5" stroke="#000" stroke-width="1"/>
<text x="305.1" y="319.90000000000003" font-size="8.2" text-anchor="middle" fill="#151515" stroke="#151515" stroke-width="0.1" textLength="4.2" lengthAdjust="spacingAndGlyphs">3</text>
<line x1="330.3" y1="308.3" x2="330.3" y2="311.5" stroke="#000" stroke-width="1"/>
<text x="330.3" y="319.90000000000003" font-size="8.2" text-anchor="middle" fill="#151515" stroke="#151515" stroke-width="0.1" textLength="4.2" lengthAdjust="spacingAndGlyphs">4</text>
<line x1="220.4" y1="303.3" x2="223.6" y2="303.3" stroke="#000" stroke-width="1"/>
<text x="217.5" y="306.3" font-size="8.4" text-anchor="end" fill="#151515" stroke="#151515" stroke-width="0.1" textLength="15.04" lengthAdjust="spacingAndGlyphs">0.00</text>
<line x1="220.4" y1="278.3" x2="223.6" y2="278.3" stroke="#000" stroke-width="1"/>
<text x="217.5" y="281.3" font-size="8.4" text-anchor="end" fill="#151515" stroke="#151515" stroke-width="0.1" textLength="15.04" lengthAdjust="spacingAndGlyphs">0.25</text>
<line x1="220.4" y1="253.3" x2="223.6" y2="253.3" stroke="#000" stroke-width="1"/>
<text x="217.5" y="256.3" font-size="8.4" text-anchor="end" fill="#151515" stroke="#151515" stroke-width="0.1" textLength="15.04" lengthAdjust="spacingAndGlyphs">0.50</text>
<line x1="220.4" y1="228.3" x2="223.6" y2="228.3" stroke="#000" stroke-width="1"/>
<text x="217.5" y="231.3" font-size="8.4" text-anchor="end" fill="#151515" stroke="#151515" stroke-width="0.1" textLength="15.04" lengthAdjust="spacingAndGlyphs">0.75</text>
<line x1="220.4" y1="203.3" x2="223.6" y2="203.3" stroke="#000" stroke-width="1"/>
<text x="217.5" y="206.3" font-size="8.4" text-anchor="end" fill="#151515" stroke="#151515" stroke-width="0.1" textLength="15.04" lengthAdjust="spacingAndGlyphs">1.00</text>
<polygon points="232.4,303.3 232.4,300.53 232.33,300.53 232.33,297.77 232.27,297.77 232.27,295.0 232.2,295.0 233.8,295.0 233.8,291.2 234.75,291.2 234.75,287.7 235.7,287.7 235.7,284.2 237.25,284.2 237.25,281.15 238.8,281.15 238.8,278.1 239.75,278.1 239.75,275.4 240.7,275.4 240.7,272.7 241.65,272.7 241.65,270.1 242.6,270.1 242.6,267.5 248.8,267.5 249.2,267.5 249.2,264.2 252.6,264.2 252.6,262.3 254.9,262.3 254.9,257.0 286.5,257.0 286.5,254 296.4,254 296.4,248.1 321,248.1 321,276.3 291.3,276.3 291.3,278.5 279.8,278.5 279.8,280 279.8,280.2 254.3,280.2 254.3,285 254.3,285.5 249.5,285.5 249.5,289.2 243.4,289.2 243.4,289.6 241.1,289.6 241.1,293.5 238.0,293.5 238.0,296.25 236.5,296.25 236.5,299.0 235.0,299.0 235.0,301.15 234.2,301.15 234.2,303.3 233.4,303.3" fill="#c8102e" fill-opacity="0.27" stroke="none"/>
<polygon points="233.4,303.3 233.95,303.3 233.95,300.65 234.5,300.65 234.5,298.0 236.0,298.0 236.0,294.0 238.0,294.0 238.0,290.0 240.0,290.0 240.0,286.0 242.0,286.0 242.0,282.0 243.0,282.0 243.0,278.0 264.9,278 264.9,276.5 279.8,276.5 279.8,272.1 291.3,272.1 291.3,267.8 329.7,267.8 329.7,242.8 352.4,242.8 352.4,290.1 329.7,290.1 329.7,288.6 329.7,288.8 291.3,288.8 291.3,291 279,291 279,293.4 264.9,293.4 264.9,294.8 264.9,295.0 246.5,295.0 246.5,295.8 243.4,295.8 243.4,298.1 241.1,298.1 241.1,300.4 238.0,300.4 238.0,303.3 235.0,303.3" fill="#1b538f" fill-opacity="0.27" stroke="none"/>
<polyline points="229.5,303.3 233.4,303.3 233.4,302.0 234.6,302.0 234.6,300.4 235.8,300.4 235.8,298.6 237.0,298.6 237.0,296.6 238.2,296.6 238.2,294.6 239.4,294.6 239.4,292.6 240.6,292.6 240.6,290.8 241.8,290.8 241.8,289.2 243.4,289.2 243.4,288.0 245.0,288.0 245.0,286.8 246.3,286.8 246.3,286 264.6,286 264.9,286.0 264.9,284.5 279.5,284.5 279.65,284.5 279.65,282.7 279.8,282.7 279.8,280.9 290.8,280.9 291.3,280.9 291.3,278.5 329.7,278.5 329.7,267.1 352.4,267.1" fill="none" stroke="#1b538f" stroke-width="1.5" stroke-linejoin="miter"/>
<polyline points="229.5,303.3 232.6,303.3 233.0,303.3 233.0,301.2 233.4,301.2 233.4,298.85 233.8,298.85 233.8,296.5 234.35,296.5 234.35,293.85 234.9,293.85 234.9,291.2 236.8,291.2 236.8,290.4 238.0,290.4 238.0,287.3 239.5,287.3 239.5,284.2 241.1,284.2 241.1,281.2 242.2,281.2 242.2,278.1 248.8,278.1 249.5,278.1 249.5,275.8 251.1,275.8 251.1,275.0 252.6,275.0 252.6,273.8 254.2,273.8 254.2,271.9 254.5,271.9 254.5,268.5 286.5,268.5 286.5,265.6 296.2,265.6 296.2,262.0 320.7,262.0" fill="none" stroke="#c8102e" stroke-width="1.5" stroke-linejoin="miter"/>
<text x="289.3" y="194.1" font-size="9.5" text-anchor="middle" font-weight="bold" fill="#000" textLength="34.2" lengthAdjust="spacingAndGlyphs">Relapse</text>
<text x="239.4" y="212.0" font-size="8.0" font-style="italic" fill="#111" stroke="#111" stroke-width="0.1" textLength="27.5" lengthAdjust="spacingAndGlyphs">P = 0.04</text>
<text x="195.0" y="253.2" font-size="10.0" text-anchor="middle" fill="#151515" stroke="#151515" stroke-width="0.1" textLength="71.5" lengthAdjust="spacingAndGlyphs" transform="rotate(-90 195.0 253.2)">Cumulative incidence</text>
<line x1="378.0" y1="198.6" x2="378.0" y2="308.8" stroke="#000" stroke-width="1.1"/>
<line x1="377.5" y1="308.3" x2="512.8" y2="308.3" stroke="#000" stroke-width="1.1"/>
<line x1="383.7" y1="308.3" x2="383.7" y2="311.5" stroke="#000" stroke-width="1"/>
<text x="383.7" y="319.90000000000003" font-size="8.2" text-anchor="middle" fill="#151515" stroke="#151515" stroke-width="0.1" textLength="4.2" lengthAdjust="spacingAndGlyphs">0</text>
<line x1="408.9" y1="308.3" x2="408.9" y2="311.5" stroke="#000" stroke-width="1"/>
<text x="408.9" y="319.90000000000003" font-size="8.2" text-anchor="middle" fill="#151515" stroke="#151515" stroke-width="0.1" textLength="4.2" lengthAdjust="spacingAndGlyphs">1</text>
<line x1="434.09999999999997" y1="308.3" x2="434.09999999999997" y2="311.5" stroke="#000" stroke-width="1"/>
<text x="434.09999999999997" y="319.90000000000003" font-size="8.2" text-anchor="middle" fill="#151515" stroke="#151515" stroke-width="0.1" textLength="4.2" lengthAdjust="spacingAndGlyphs">2</text>
<line x1="459.29999999999995" y1="308.3" x2="459.29999999999995" y2="311.5" stroke="#000" stroke-width="1"/>
<text x="459.29999999999995" y="319.90000000000003" font-size="8.2" text-anchor="middle" fill="#151515" stroke="#151515" stroke-width="0.1" textLength="4.2" lengthAdjust="spacingAndGlyphs">3</text>
<line x1="484.5" y1="308.3" x2="484.5" y2="311.5" stroke="#000" stroke-width="1"/>
<text x="484.5" y="319.90000000000003" font-size="8.2" text-anchor="middle" fill="#151515" stroke="#151515" stroke-width="0.1" textLength="4.2" lengthAdjust="spacingAndGlyphs">4</text>
<polygon points="387.4,303.3 387.4,296.5 388.3,296.5 388.3,291.5 389.5,291.5 389.5,287.5 390.8,287.5 390.8,284.5 392.3,284.5 392.3,281.8 394.0,281.8 394.0,279.6 396.2,279.6 396.2,277.6 398.8,277.6 398.8,276.0 401.8,276.0 401.8,274.6 405.0,274.6 405.0,273.4 475,273.4 475,292.6 475.0,293.0 409.0,293.0 409.0,293.5 402.2,293.5 402.2,294.6 396.8,294.6 396.8,296.6 391.5,296.6 391.5,300.0 388.1,300.0" fill="#c8102e" fill-opacity="0.27" stroke="none"/>
<polygon points="388.1,298.6 405.6,298.6 405.6,295.3 439.2,295.3 439.2,291.3 506.8,291.3 506.8,303.2 388.1,303.2" fill="#1b538f" fill-opacity="0.27" stroke="none"/>
<polyline points="383.6,303.3 388.1,303.3 388.1,302.2 405.6,302.2 405.6,299.8 439.2,299.8 439.2,297.4 506.8,297.4" fill="none" stroke="#1b538f" stroke-width="1.5" stroke-linejoin="miter"/>
<polyline points="383.6,303.3 387.4,303.3 387.4,300.7 388.1,300.7 388.1,297.3 388.8,297.3 388.8,294.5 389.8,294.5 389.8,292.2 391.0,292.2 391.0,290.6 392.4,290.6 392.4,289.3 394.0,289.3 394.0,288.0 396.0,288.0 396.0,286.8 398.4,286.8 398.4,285.6 401.0,285.6 401.0,284.3 403.4,284.3 403.4,283.2 406.6,283.2 406.6,282.2 475,282.2" fill="none" stroke="#c8102e" stroke-width="1.5" stroke-linejoin="miter"/>
<text x="443.7" y="194.1" font-size="9.5" text-anchor="middle" font-weight="bold" fill="#000" textLength="22.0" lengthAdjust="spacingAndGlyphs">NRM</text>
<text x="390.9" y="212.0" font-size="8.0" font-style="italic" fill="#111" stroke="#111" stroke-width="0.1" textLength="31.5" lengthAdjust="spacingAndGlyphs">P = 0.004</text>
<line x1="452.8" y1="216.2" x2="462.8" y2="216.2" stroke="#c8102e" stroke-width="1.5"/>
<line x1="452.8" y1="228.9" x2="462.8" y2="228.9" stroke="#1b538f" stroke-width="1.5"/>
<text x="465.6" y="218.9" font-size="8.8" fill="#151515" stroke="#151515" stroke-width="0.1" textLength="33.5" lengthAdjust="spacingAndGlyphs">NK ≤ 50.5</text>
<text x="465.6" y="231.2" font-size="8.8" fill="#151515" stroke="#151515" stroke-width="0.1" textLength="33.5" lengthAdjust="spacingAndGlyphs">NK &gt; 50.5</text>
<text x="284.0" y="360.6" font-size="10.0" text-anchor="middle" font-weight="bold" fill="#000" textLength="231.5" lengthAdjust="spacingAndGlyphs">Top 10 variable importance from random forest: OS</text>
<line x1="96.4" y1="365.8" x2="96.4" y2="649.5" stroke="#000" stroke-width="1.1"/>
<line x1="95.9" y1="649.3" x2="471.9" y2="649.3" stroke="#000" stroke-width="1.1"/>
<rect x="113.1" y="375.5" width="341.9" height="13.2" fill="#c41532"/>
<line x1="92.9" y1="382.1" x2="96.4" y2="382.1" stroke="#000" stroke-width="1"/>
<text x="90.0" y="385.1" font-size="8.4" text-anchor="end" fill="#151515" stroke="#151515" stroke-width="0.1" textLength="10.97" lengthAdjust="spacingAndGlyphs">NK</text>
<rect x="113.1" y="403.4" width="305.0" height="13.2" fill="#c41532"/>
<line x1="92.9" y1="410.0" x2="96.4" y2="410.0" stroke="#000" stroke-width="1"/>
<text x="90.0" y="413.0" font-size="8.4" text-anchor="end" fill="#151515" stroke="#151515" stroke-width="0.1" textLength="72.85" lengthAdjust="spacingAndGlyphs">Pre-transplant status</text>
<rect x="113.1" y="431.3" width="289.4" height="13.2" fill="#c41532"/>
<line x1="92.9" y1="437.90000000000003" x2="96.4" y2="437.90000000000003" stroke="#000" stroke-width="1"/>
<text x="90.0" y="440.90000000000003" font-size="8.4" text-anchor="end" fill="#151515" stroke="#151515" stroke-width="0.1" textLength="14.48" lengthAdjust="spacingAndGlyphs">ST2</text>
<rect x="113.1" y="459.2" width="277.6" height="13.2" fill="#c41532"/>
<line x1="92.9" y1="465.8" x2="96.4" y2="465.8" stroke="#000" stroke-width="1"/>
<text x="90.0" y="468.8" font-size="8.4" text-anchor="end" fill="#151515" stroke="#151515" stroke-width="0.1" textLength="38.18" lengthAdjust="spacingAndGlyphs">Naive CD4</text>
<rect x="113.1" y="487.1" width="240.6" height="13.2" fill="#c41532"/>
<line x1="92.9" y1="493.70000000000005" x2="96.4" y2="493.70000000000005" stroke="#000" stroke-width="1"/>
<text x="90.0" y="496.70000000000005" font-size="8.4" text-anchor="end" fill="#151515" stroke="#151515" stroke-width="0.1" textLength="25.44" lengthAdjust="spacingAndGlyphs">TNFR1</text>
<rect x="113.1" y="515.0" width="202.29999999999998" height="13.2" fill="#c41532"/>
<line x1="92.9" y1="521.6" x2="96.4" y2="521.6" stroke="#000" stroke-width="1"/>
<text x="90.0" y="524.6" font-size="8.4" text-anchor="end" fill="#151515" stroke="#151515" stroke-width="0.1" textLength="35.54" lengthAdjust="spacingAndGlyphs">Graft CD3</text>
<rect x="113.1" y="542.9" width="196.70000000000002" height="13.2" fill="#c41532"/>
<line x1="92.9" y1="549.5" x2="96.4" y2="549.5" stroke="#000" stroke-width="1"/>
<text x="90.0" y="552.5" font-size="8.4" text-anchor="end" fill="#151515" stroke="#151515" stroke-width="0.1" textLength="25.45" lengthAdjust="spacingAndGlyphs">CXCL9</text>
<rect x="113.1" y="570.8" width="154.6" height="13.2" fill="#c41532"/>
<line x1="92.9" y1="577.4" x2="96.4" y2="577.4" stroke="#000" stroke-width="1"/>
<text x="90.0" y="580.4" font-size="8.4" text-anchor="end" fill="#151515" stroke="#151515" stroke-width="0.1" textLength="23.27" lengthAdjust="spacingAndGlyphs">Reg3a</text>
<rect x="113.1" y="598.6999999999999" width="122.30000000000001" height="13.2" fill="#c41532"/>
<line x1="92.9" y1="605.3" x2="96.4" y2="605.3" stroke="#000" stroke-width="1"/>
<text x="90.0" y="608.3" font-size="8.4" text-anchor="end" fill="#151515" stroke="#151515" stroke-width="0.1" textLength="34.22" lengthAdjust="spacingAndGlyphs">BMT year</text>
<rect x="113.1" y="626.6" width="118.30000000000001" height="13.2" fill="#c41532"/>
<line x1="92.9" y1="633.2" x2="96.4" y2="633.2" stroke="#000" stroke-width="1"/>
<text x="90.0" y="636.2" font-size="8.4" text-anchor="end" fill="#151515" stroke="#151515" stroke-width="0.1" textLength="43.01" lengthAdjust="spacingAndGlyphs">Plasmablast</text>
<line x1="113.1" y1="649.3" x2="113.1" y2="652.6" stroke="#000" stroke-width="1"/>
<text x="113.1" y="662.0" font-size="8.6" text-anchor="middle" fill="#151515" stroke="#151515" stroke-width="0.1" textLength="18.94" lengthAdjust="spacingAndGlyphs">0.000</text>
<line x1="187.35" y1="649.3" x2="187.35" y2="652.6" stroke="#000" stroke-width="1"/>
<text x="187.35" y="662.0" font-size="8.6" text-anchor="middle" fill="#151515" stroke="#151515" stroke-width="0.1" textLength="18.94" lengthAdjust="spacingAndGlyphs">0.001</text>
<line x1="261.6" y1="649.3" x2="261.6" y2="652.6" stroke="#000" stroke-width="1"/>
<text x="261.6" y="662.0" font-size="8.6" text-anchor="middle" fill="#151515" stroke="#151515" stroke-width="0.1" textLength="18.94" lengthAdjust="spacingAndGlyphs">0.002</text>
<line x1="335.85" y1="649.3" x2="335.85" y2="652.6" stroke="#000" stroke-width="1"/>
<text x="335.85" y="662.0" font-size="8.6" text-anchor="middle" fill="#151515" stroke="#151515" stroke-width="0.1" textLength="18.94" lengthAdjust="spacingAndGlyphs">0.003</text>
<line x1="410.1" y1="649.3" x2="410.1" y2="652.6" stroke="#000" stroke-width="1"/>
<text x="410.1" y="662.0" font-size="8.6" text-anchor="middle" fill="#151515" stroke="#151515" stroke-width="0.1" textLength="18.94" lengthAdjust="spacingAndGlyphs">0.004</text>
<text x="284.0" y="674.8" font-size="9.4" text-anchor="middle" fill="#151515" stroke="#151515" stroke-width="0.1" textLength="67.0" lengthAdjust="spacingAndGlyphs">Variable importance</text>
<polygon points="0,0 520,0.9 520,2.1 0,1.1" fill="#111"/><rect x="0" y="0" width="1" height="686" fill="#000"/><rect x="518.9" y="0" width="1.1" height="686" fill="#000"/><polygon points="0,683.6 520,684.8 520,686 0,684.9" fill="#111"/>
</svg>
</body></html>
